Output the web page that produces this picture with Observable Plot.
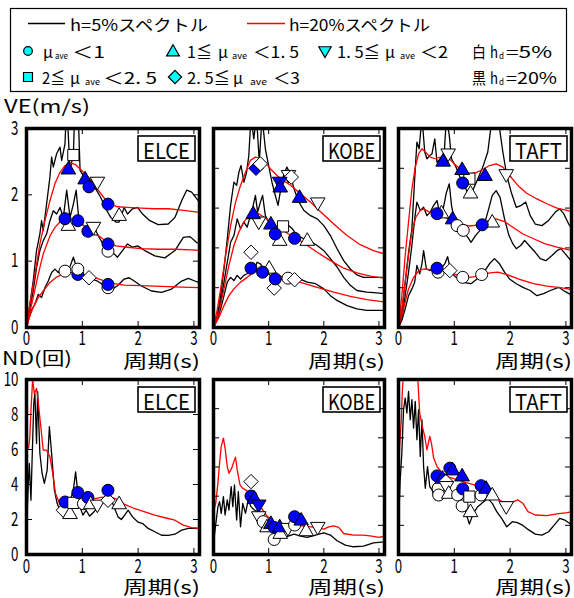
<!DOCTYPE html>
<html><head><meta charset="utf-8">
<script src="https://cdn.jsdelivr.net/npm/d3@7"></script>
<script src="https://cdn.jsdelivr.net/npm/@observablehq/plot@0.6"></script>
<style>
body{margin:0;background:#fff;}
#root{position:relative;width:574px;height:598px;overflow:hidden;background:#fff;}
#root svg{position:absolute;}
</style></head><body><div id="root"></div>
<script>
// ---------------- DATA ----------------
const xTickValues = [0, 1, 2, 3];
const panelNames = ["ELCE", "KOBE", "TAFT"];
const veYDomains = [[0, 3], [0, 5], [0, 5]];
const ndYDomains = [[0, 10], [0, 12], [0, 12]];
const veYTickLabels = [0, 1, 2, 3];
const ndYTickLabels = [0, 2, 4, 6, 8, 10];
const veInnerTicks = [[1, 2], [1, 2, 3, 4], [1, 2, 3, 4]];
const ndInnerTicks = [[2, 4, 6, 8], [2, 4, 6, 8, 10], [2, 4, 6, 8, 10]];

// ELCE VE  [period, value]
const elceVE_h5_top = [[0,0],[0.12,0.7],[0.18,1.16],[0.24,1.41],[0.27,1.61],[0.3,1.46],[0.36,1.86],[0.42,2.27],[0.45,2.57],[0.48,2.42],[0.54,2.62],[0.6,2.72],[0.63,2.52],[0.69,2.77],[0.72,3.4],[0.78,2.37],[0.84,2.62],[0.87,3.4],[0.92,3.4],[0.96,2.37],[1.02,2.29],[1.08,2.24],[1.15,2.19],[1.24,2.09],[1.33,1.96],[1.42,1.79],[1.51,1.66],[1.6,1.59],[1.66,1.59],[1.75,1.81],[1.81,1.71],[1.9,1.79],[1.99,1.81],[2.08,1.71],[2.21,1.61],[2.36,1.55],[2.54,1.56],[2.66,1.66],[2.78,1.91],[2.87,2.07],[2.96,2.04],[3.08,1.91],[3.15,1.89]];
const elceVE_h5_mid = [[0,0],[0.12,0.55],[0.18,0.9],[0.24,1.16],[0.3,1.31],[0.36,1.41],[0.42,1.61],[0.48,1.76],[0.54,1.71],[0.6,1.81],[0.66,1.66],[0.72,2.07],[0.78,1.66],[0.84,1.86],[0.89,2.07],[0.94,1.61],[1.02,1.54],[1.12,1.46],[1.21,1.51],[1.3,1.36],[1.39,1.23],[1.48,1.16],[1.57,1.11],[1.63,1.06],[1.72,1.16],[1.81,1.26],[1.9,1.21],[1.99,1.23],[2.12,1.16],[2.3,1.08],[2.48,1.05],[2.66,1.16],[2.81,1.36],[2.93,1.37],[3.05,1.28],[3.15,1.26]];
const elceVE_h5_bot = [[0,0],[0.08,0.25],[0.15,0.35],[0.21,0.5],[0.27,0.45],[0.33,0.6],[0.39,0.7],[0.45,0.83],[0.51,0.88],[0.57,0.83],[0.66,0.9],[0.75,0.85],[0.84,1.06],[0.9,0.9],[0.99,0.8],[1.08,0.78],[1.18,0.73],[1.27,0.7],[1.36,0.65],[1.45,0.6],[1.54,0.58],[1.63,0.63],[1.75,0.73],[1.84,0.75],[1.93,0.7],[2.05,0.63],[2.24,0.55],[2.42,0.53],[2.6,0.58],[2.78,0.7],[2.9,0.74],[3.05,0.69],[3.15,0.68]];
const elceVE_h20_top = [[0,0],[0.05,0.3],[0.12,0.65],[0.18,0.95],[0.24,1.26],[0.33,1.61],[0.42,1.91],[0.51,2.17],[0.6,2.34],[0.69,2.44],[0.78,2.48],[0.87,2.46],[0.96,2.39],[1.05,2.32],[1.15,2.22],[1.24,2.12],[1.33,2.02],[1.42,1.92],[1.51,1.86],[1.63,1.82],[1.81,1.81],[2.05,1.8],[2.3,1.79],[2.54,1.79],[2.78,1.77],[2.96,1.75],[3.15,1.73]];
const elceVE_h20_mid = [[0,0],[0.05,0.2],[0.12,0.45],[0.21,0.8],[0.3,1.11],[0.42,1.38],[0.51,1.51],[0.6,1.59],[0.72,1.63],[0.84,1.62],[0.96,1.57],[1.08,1.51],[1.21,1.43],[1.33,1.36],[1.45,1.28],[1.6,1.23],[1.81,1.21],[2.05,1.19],[2.36,1.18],[2.66,1.18],[2.96,1.17],[3.15,1.16]];
const elceVE_h20_bot = [[0,0],[0.05,0.15],[0.12,0.3],[0.21,0.45],[0.3,0.55],[0.42,0.68],[0.54,0.76],[0.66,0.81],[0.78,0.83],[0.9,0.82],[1.02,0.8],[1.15,0.77],[1.33,0.72],[1.51,0.67],[1.75,0.64],[2.05,0.63],[2.42,0.62],[2.78,0.61],[3.15,0.6]];
// markers: [period, value, shape, fill]  shape: c circle, u up-tri, d down-tri, q square, k diamond; fill: w white(hd=5%), b dark(hd=20%)
const elceVE_pts = [[0.84,2.6,"q","w"],[0.75,2.39,"u","b"],[1.05,2.24,"u","b"],[1.12,2.12,"c","b"],[1.27,2.19,"d","w"],[1.46,1.86,"c","b"],[1.66,1.69,"u","w"],[0.75,1.54,"u","w"],[0.69,1.64,"c","b"],[0.92,1.61,"c","b"],[1.15,1.47,"u","w"],[1.1,1.45,"c","b"],[1.2,1.51,"d","w"],[1.46,1.15,"c","w"],[1.46,1.26,"c","b"],[0.69,0.85,"c","w"],[0.92,0.8,"c","b"],[0.92,0.88,"c","w"],[1.12,0.75,"k","w"],[1.46,0.6,"c","w"],[1.46,0.65,"c","b"]];

// KOBE VE
const kobeVE_h5_top = [[0,0],[0.07,0.3],[0.13,0.8],[0.19,1.47],[0.25,2.23],[0.31,3.07],[0.37,3.65],[0.42,3.57],[0.46,3.9],[0.5,4.07],[0.55,3.65],[0.6,3.9],[0.64,4.32],[0.68,5.3],[0.73,4.74],[0.78,5.3],[0.83,4.15],[0.88,5.3],[0.94,4.49],[1.0,4.07],[1.06,3.65],[1.12,3.32],[1.17,3.07],[1.21,3.4],[1.27,3.82],[1.33,4.03],[1.39,3.86],[1.46,3.48],[1.55,3.15],[1.64,2.94],[1.76,2.81],[1.88,2.73],[2.0,2.56],[2.12,2.31],[2.24,1.98],[2.36,1.68],[2.48,1.47],[2.6,1.32],[2.72,1.26],[2.9,1.26],[3.1,1.26]];
const kobeVE_h5_mid = [[0,0],[0.07,0.26],[0.13,0.64],[0.19,1.14],[0.25,1.64],[0.31,2.14],[0.37,2.31],[0.43,2.73],[0.49,2.48],[0.55,2.65],[0.61,2.52],[0.67,2.81],[0.72,3.07],[0.76,3.32],[0.8,2.9],[0.85,3.15],[0.89,3.32],[0.94,2.81],[1.0,2.65],[1.09,2.44],[1.17,2.31],[1.24,2.52],[1.33,2.6],[1.43,2.48],[1.52,2.31],[1.64,2.23],[1.76,2.16],[1.88,2.06],[2.0,1.93],[2.12,1.73],[2.24,1.52],[2.36,1.26],[2.48,1.06],[2.6,0.93],[2.78,0.89],[2.96,0.87],[3.1,0.85]];
const kobeVE_h5_bot = [[0,0],[0.07,0.22],[0.13,0.47],[0.19,0.8],[0.25,1.14],[0.31,1.26],[0.37,1.18],[0.43,1.31],[0.49,1.22],[0.55,1.31],[0.61,1.35],[0.67,1.47],[0.73,1.43],[0.79,1.64],[0.85,1.6],[0.91,1.47],[1.0,1.35],[1.09,1.22],[1.18,1.18],[1.27,1.26],[1.36,1.31],[1.46,1.24],[1.58,1.21],[1.7,1.14],[1.85,1.1],[2.0,0.97],[2.12,0.8],[2.24,0.68],[2.42,0.55],[2.6,0.47],[2.78,0.43],[2.96,0.43],[3.1,0.43]];
const kobeVE_h20_top = [[0,0],[0.07,0.47],[0.13,0.97],[0.22,1.81],[0.31,2.56],[0.4,3.15],[0.49,3.57],[0.58,3.9],[0.67,4.2],[0.76,4.28],[0.85,4.25],[0.94,4.15],[1.03,3.99],[1.15,3.82],[1.27,3.69],[1.39,3.58],[1.58,3.36],[1.76,3.15],[1.94,2.91],[2.18,2.6],[2.42,2.31],[2.66,2.08],[2.9,1.93],[3.1,1.85]];
const kobeVE_h20_mid = [[0,0],[0.1,0.39],[0.19,0.97],[0.28,1.56],[0.37,2.06],[0.46,2.4],[0.55,2.65],[0.64,2.81],[0.73,2.88],[0.82,2.86],[0.94,2.75],[1.06,2.6],[1.21,2.48],[1.36,2.35],[1.52,2.23],[1.7,2.06],[1.88,1.89],[2.12,1.68],[2.36,1.49],[2.6,1.37],[2.84,1.29],[3.1,1.24]];
const kobeVE_h20_bot = [[0,0],[0.1,0.26],[0.19,0.55],[0.28,0.8],[0.37,0.97],[0.49,1.14],[0.61,1.26],[0.73,1.39],[0.85,1.46],[0.97,1.43],[1.12,1.35],[1.27,1.26],[1.46,1.18],[1.64,1.11],[1.88,1.01],[2.18,0.89],[2.48,0.78],[2.78,0.7],[3.1,0.64]];
const kobeVE_pts = [[0.77,4.0,"k","b"],[0.85,4.11,"k","w"],[1.36,3.82,"d","w"],[1.41,3.78,"k","w"],[1.2,3.65,"d","b"],[1.21,3.53,"u","b"],[1.56,3.27,"u","b"],[1.89,3.13,"d","w"],[0.82,2.65,"d","w"],[0.72,2.86,"u","b"],[1.04,2.6,"u","b"],[1.26,2.54,"q","w"],[1.2,2.19,"u","w"],[1.12,2.35,"c","b"],[1.47,2.24,"c","b"],[1.7,2.19,"u","w"],[0.68,1.89,"k","w"],[1.01,1.49,"u","w"],[0.68,1.49,"c","b"],[0.89,1.39,"c","b"],[1.1,0.99,"k","w"],[1.12,1.22,"c","b"],[1.35,1.24,"c","w"],[1.47,1.2,"k","w"]];

// TAFT VE
const taftVE_h5_top = [[0,0],[0.06,0.39],[0.12,1.14],[0.18,1.89],[0.24,2.48],[0.29,3.74],[0.33,4.66],[0.37,4.49],[0.42,5.3],[0.47,4.41],[0.51,4.24],[0.56,4.32],[0.6,4.36],[0.65,4.74],[0.69,4.15],[0.75,4.24],[0.82,4.41],[0.86,5.3],[0.91,4.82],[0.95,4.24],[1.03,4.03],[1.1,3.78],[1.18,3.57],[1.26,3.32],[1.33,3.44],[1.42,3.73],[1.51,4.03],[1.6,4.41],[1.68,5.3],[1.78,5.3],[1.87,4.41],[1.94,3.82],[2.02,3.4],[2.11,3.02],[2.2,3.07],[2.28,3.15],[2.36,2.81],[2.45,2.6],[2.57,2.56],[2.69,2.69],[2.81,2.9],[2.89,2.98],[2.96,2.86],[3.05,2.6],[3.12,2.44]];
const taftVE_h5_mid = [[0,0],[0.06,0.22],[0.12,0.8],[0.18,1.39],[0.24,2.06],[0.29,2.73],[0.33,3.15],[0.39,2.94],[0.45,3.02],[0.51,2.81],[0.57,2.9],[0.63,3.07],[0.69,3.19],[0.74,2.86],[0.8,2.98],[0.86,3.4],[0.91,3.61],[0.95,3.07],[1.0,2.69],[1.07,2.52],[1.16,2.4],[1.24,2.27],[1.3,2.14],[1.38,2.31],[1.46,2.44],[1.54,2.6],[1.6,2.9],[1.68,3.32],[1.75,3.44],[1.82,3.27],[1.9,2.73],[1.98,2.31],[2.05,2.1],[2.11,1.98],[2.19,2.06],[2.26,2.19],[2.34,2.06],[2.45,1.89],[2.54,1.73],[2.64,1.68],[2.75,1.81],[2.84,1.93],[2.91,1.98],[2.99,1.85],[3.07,1.71],[3.12,1.64]];
const taftVE_h5_bot = [[0,0],[0.06,0.18],[0.12,0.47],[0.18,0.8],[0.24,0.97],[0.29,1.14],[0.33,1.56],[0.38,1.35],[0.42,1.6],[0.45,1.93],[0.5,1.47],[0.57,1.43],[0.66,1.52],[0.75,1.47],[0.83,1.6],[0.88,1.78],[0.94,1.39],[1.03,1.26],[1.12,1.22],[1.21,1.12],[1.3,1.1],[1.39,1.2],[1.51,1.35],[1.63,1.6],[1.72,1.73],[1.81,1.6],[1.9,1.39],[1.99,1.22],[2.11,1.1],[2.23,1.01],[2.36,0.93],[2.48,0.8],[2.6,0.85],[2.72,0.93],[2.87,1.01],[2.99,0.9],[3.12,0.8]];
const taftVE_h20_top = [[0,0],[0.06,0.8],[0.12,1.81],[0.18,2.65],[0.24,3.48],[0.3,4.03],[0.36,4.36],[0.42,4.49],[0.48,4.41],[0.57,4.28],[0.66,4.24],[0.75,4.28],[0.85,4.3],[0.94,4.2],[1.03,4.07],[1.15,3.94],[1.27,3.86],[1.39,3.89],[1.51,3.97],[1.63,4.07],[1.75,4.11],[1.87,4.03],[1.99,3.82],[2.14,3.57],[2.29,3.38],[2.48,3.23],[2.66,3.11],[2.84,3.0],[3.02,2.94],[3.12,2.9]];
const taftVE_h20_mid = [[0,0],[0.06,0.47],[0.12,1.14],[0.18,1.81],[0.24,2.4],[0.31,2.77],[0.39,2.94],[0.45,2.98],[0.54,2.91],[0.66,2.86],[0.79,2.8],[0.94,2.69],[1.09,2.6],[1.27,2.55],[1.45,2.58],[1.6,2.68],[1.75,2.73],[1.9,2.66],[2.05,2.52],[2.23,2.35],[2.42,2.23],[2.63,2.1],[2.84,2.02],[3.12,1.93]];
const taftVE_h20_bot = [[0,0],[0.06,0.3],[0.12,0.64],[0.18,0.97],[0.27,1.26],[0.36,1.42],[0.45,1.47],[0.54,1.46],[0.72,1.42],[0.91,1.37],[1.09,1.31],[1.27,1.26],[1.45,1.29],[1.63,1.37],[1.78,1.39],[1.96,1.32],[2.17,1.21],[2.42,1.1],[2.66,1.04],[2.9,1.0],[3.12,0.95]];
const taftVE_pts = [[0.89,4.36,"d","w"],[0.8,4.18,"u","b"],[1.27,3.74,"q","w"],[1.14,3.97,"u","b"],[1.29,3.38,"u","w"],[1.15,3.63,"c","b"],[1.55,3.82,"u","b"],[1.93,3.84,"d","w"],[0.77,2.88,"u","w"],[0.69,2.86,"c","b"],[0.97,2.73,"u","b"],[1.05,2.56,"c","w"],[1.16,2.44,"c","w"],[1.68,2.65,"u","w"],[1.5,2.58,"c","b"],[0.71,1.39,"c","w"],[0.69,1.49,"c","b"],[0.92,1.43,"k","w"],[1.15,1.26,"c","w"],[1.49,1.33,"c","w"]];

// ND rows
const elceND_h5 = [[0,0.82],[0.01,2.15],[0.03,3.87],[0.05,5.2],[0.08,3.1],[0.1,5.39],[0.13,8.63],[0.15,9.2],[0.18,6.34],[0.2,9.3],[0.24,5.77],[0.28,4.63],[0.32,4.06],[0.37,4.82],[0.41,7.3],[0.45,5.77],[0.5,3.68],[0.55,2.91],[0.61,2.44],[0.67,2.72],[0.73,2.95],[0.79,3.14],[0.84,3.68],[0.88,4.72],[0.92,3.49],[0.96,2.72],[1.01,2.25],[1.07,2.53],[1.13,2.19],[1.21,2.44],[1.28,2.72],[1.36,2.91],[1.44,3.39],[1.51,3.2],[1.58,2.63],[1.64,2.15],[1.7,2.0],[1.76,2.25],[1.82,2.53],[1.9,2.15],[1.99,1.87],[2.08,1.77],[2.18,1.49],[2.3,1.3],[2.42,1.1],[2.54,1.09],[2.66,1.16],[2.78,1.39],[2.9,1.49],[3.02,1.49],[3.13,1.47]];
const elceND_h20 = [[0,2.15],[0.01,5.96],[0.04,6.15],[0.06,6.72],[0.08,8.25],[0.11,10.0],[0.14,9.2],[0.18,9.49],[0.21,8.72],[0.25,7.49],[0.3,5.96],[0.36,5.96],[0.42,5.58],[0.47,4.63],[0.52,3.49],[0.58,3.01],[0.66,2.95],[0.78,2.95],[0.96,3.1],[1.15,3.14],[1.33,3.26],[1.51,3.3],[1.63,3.14],[1.75,2.88],[1.93,2.63],[2.12,2.44],[2.3,2.25],[2.48,2.1],[2.66,1.96],[2.81,1.68],[2.96,1.54],[3.13,1.49]];
const elceND_pts = [[0.66,2.53,"k","w"],[0.69,3.0,"c","b"],[0.78,2.34,"u","w"],[0.84,2.95,"q","w"],[0.92,3.54,"c","b"],[1.02,2.9,"c","w"],[1.1,3.26,"c","b"],[1.15,2.9,"u","w"],[1.27,2.82,"d","w"],[1.46,3.1,"k","w"],[1.46,3.67,"c","b"],[1.66,2.9,"u","w"]];

const kobeND_h5 = [[0,0.76],[0.02,1.44],[0.05,2.36],[0.08,3.28],[0.11,3.62],[0.14,2.82],[0.18,3.97],[0.21,2.71],[0.25,3.74],[0.28,3.05],[0.32,4.66],[0.35,3.28],[0.38,4.77],[0.42,2.36],[0.45,4.31],[0.49,1.9],[0.53,3.51],[0.58,2.82],[0.63,3.74],[0.68,3.28],[0.74,3.05],[0.8,2.94],[0.86,2.36],[0.94,2.09],[1.03,1.72],[1.12,1.49],[1.21,1.33],[1.33,1.22],[1.46,1.4],[1.58,1.26],[1.7,1.17],[1.85,1.33],[2.0,1.49],[2.12,1.33],[2.24,0.94],[2.39,0.64],[2.54,0.53],[2.72,0.57],[2.9,0.8],[3.1,0.87]];
const kobeND_h20 = [[0,2.94],[0.04,3.51],[0.08,4.89],[0.11,6.26],[0.14,7.41],[0.18,7.98],[0.21,7.29],[0.25,6.03],[0.28,5.57],[0.33,5.92],[0.37,6.38],[0.4,6.67],[0.43,5.8],[0.48,4.77],[0.53,4.54],[0.58,4.43],[0.67,4.2],[0.76,3.74],[0.85,3.28],[0.97,2.64],[1.09,2.25],[1.24,2.09],[1.43,2.02],[1.64,1.95],[1.85,1.86],[2.0,1.74],[2.09,1.9],[2.18,1.97],[2.27,1.86],[2.36,1.44],[2.54,1.33],[2.72,1.33],[2.87,1.26],[3.0,1.17],[3.1,1.26]];
const kobeND_pts = [[0.68,5.0,"k","w"],[0.68,4.01,"c","b"],[0.74,3.85,"u","b"],[0.82,3.39,"d","b"],[0.82,2.59,"d","w"],[0.9,2.25,"c","w"],[0.97,1.9,"u","w"],[1.04,2.13,"u","b"],[1.1,1.03,"c","w"],[1.1,1.86,"c","b"],[1.21,1.45,"u","w"],[1.2,1.9,"u","b"],[1.35,1.79,"d","w"],[1.47,2.02,"c","w"],[1.47,2.59,"c","b"],[1.59,2.36,"u","b"],[1.68,1.63,"u","w"],[1.89,1.86,"d","w"]];

const taftND_h5 = [[0,2.02],[0.03,5.11],[0.06,6.95],[0.09,9.93],[0.12,10.73],[0.15,9.7],[0.18,11.19],[0.21,9.24],[0.24,10.62],[0.27,8.67],[0.3,10.5],[0.33,7.87],[0.36,9.93],[0.39,6.72],[0.42,9.24],[0.45,6.03],[0.48,4.54],[0.52,6.03],[0.56,4.66],[0.6,4.43],[0.66,3.74],[0.72,3.92],[0.8,4.2],[0.88,3.97],[0.95,4.15],[1.04,3.85],[1.12,3.51],[1.2,2.94],[1.27,2.09],[1.34,2.82],[1.42,3.28],[1.51,3.56],[1.6,3.85],[1.68,3.51],[1.76,2.94],[1.86,2.41],[1.94,1.9],[2.04,2.25],[2.13,2.18],[2.22,2.02],[2.32,1.72],[2.45,1.4],[2.57,1.33],[2.69,1.56],[2.79,2.02],[2.89,2.48],[2.98,2.36],[3.07,2.13],[3.12,1.9]];
const taftND_h20 = [[0,5.34],[0.02,7.41],[0.05,9.24],[0.07,11.3],[0.1,13],[0.33,13],[0.35,11.77],[0.38,9.7],[0.42,8.9],[0.47,8.1],[0.51,7.18],[0.56,8.1],[0.59,7.64],[0.63,6.61],[0.69,6.03],[0.79,5.57],[0.91,5.3],[1.06,5.11],[1.21,4.93],[1.36,4.77],[1.51,4.54],[1.63,4.31],[1.75,3.85],[1.87,3.62],[2.02,3.56],[2.14,3.74],[2.23,3.51],[2.32,2.94],[2.45,2.71],[2.66,2.66],[2.84,2.78],[3.02,2.87],[3.12,2.94]];
const taftND_pts = [[0.71,4.54,"c","w"],[0.72,4.08,"c","w"],[0.69,5.39,"c","b"],[0.79,5.23,"u","b"],[0.85,5.0,"k","w"],[0.86,4.66,"d","w"],[0.9,4.2,"u","w"],[0.92,5.92,"c","b"],[0.97,5.8,"u","b"],[1.14,5.39,"u","b"],[1.06,4.08,"c","w"],[1.14,3.33,"c","w"],[1.15,4.5,"c","b"],[1.27,3.97,"q","w"],[1.29,2.94,"u","w"],[1.48,4.08,"c","w"],[1.48,4.72,"c","b"],[1.57,4.54,"u","b"],[1.68,4.08,"u","w"],[1.93,3.28,"d","w"]];

// ---------------- RENDER ----------------
const FONT = "'Noto Sans CJK JP', 'Noto Sans', sans-serif";
const BLUE = "#0000ff", RED = "#ff0000";
const COLS = [[26, 199], [213, 384], [398, 571]];
const ROWS = [[128, 327], [379, 554]];
const root = document.getElementById("root");

const SYM = {
  c: {draw(p){ p.moveTo(6, 0); p.arc(0, 0, 6, 0, 2 * Math.PI); p.closePath(); }},
  u: {draw(p){ p.moveTo(0, -7.6); p.lineTo(7.3, 5); p.lineTo(-7.3, 5); p.closePath(); }},
  d: {draw(p){ p.moveTo(0, 7.6); p.lineTo(7.3, -5); p.lineTo(-7.3, -5); p.closePath(); }},
  q: {draw(p){ p.rect(-5.6, -5.6, 11.2, 11.2); }},
  k: {draw(p){ p.moveTo(0, -7.2); p.lineTo(7.2, 0); p.lineTo(0, 7.2); p.lineTo(-7.2, 0); p.closePath(); }}
};
const fmt = d => String(d);

function panel(ci, ri, blackLines, redLines, pts, yDomain, innerTicks, yLabels) {
  const [x0, x1] = COLS[ci], [y0, y1] = ROWS[ri];
  const W = x1 - x0, H = y1 - y0;
  const ml = ci === 0 ? 30 : 6, mr = 6, mt = 6, mb = 30;
  const marks = [
    ...blackLines.map(d => Plot.line(d, {stroke: "black", strokeWidth: 1.3, clip: true})),
    ...redLines.map(d => Plot.line(d, {stroke: RED, strokeWidth: 1.3, clip: true})),
    Plot.dot(pts, {x: d => d[0], y: d => d[1], symbol: d => d[2], fill: d => d[3] === "b" ? BLUE : "#ffffff", stroke: "black", strokeWidth: 1, r: 5}),
    Plot.tickX([1, 2, 3], {x: d => d, insetTop: H - 6, stroke: "black"}),
    Plot.tickX([1, 2, 3], {x: d => d, insetBottom: H - 6, stroke: "black"}),
    Plot.tickY(innerTicks, {y: d => d, insetRight: W - 6, stroke: "black"}),
    Plot.tickY(innerTicks, {y: d => d, insetLeft: W - 6, stroke: "black"}),
    Plot.frame({stroke: "black", strokeWidth: 3.5})
  ];
  const svg = Plot.plot({
    width: W + ml + mr, height: H + mt + mb,
    marginLeft: ml, marginRight: mr, marginTop: mt, marginBottom: mb,
    x: {domain: [0, 3.1], ticks: xTickValues, tickFormat: fmt, tickSize: 0, tickPadding: ri === 0 ? 4 : 5, label: null},
    y: {domain: yDomain, ticks: yLabels, tickFormat: fmt, tickSize: 0, tickPadding: 8, label: null, axis: ci === 0 ? "left" : null},
    symbol: {domain: ["c", "u", "d", "q", "k"], range: [SYM.c, SYM.u, SYM.d, SYM.q, SYM.k]},
    color: {type: "identity"},
    style: {background: "transparent", fontFamily: FONT, fontSize: "19px", color: "black", overflow: "visible"},
    marks
  });
  svg.style.left = (x0 - ml) + "px";
  svg.style.top = (y0 - mt) + "px";
  svg.style.maxWidth = "none";
  // narrow, tall tick digits as in the original (horizontal squeeze only)
  svg.querySelectorAll('g[aria-label$="tick label"] text').forEach(t => {
    const tr = t.getAttribute("transform");
    if (tr) t.setAttribute("transform", tr + " scale(0.7,1)");
  });
  root.appendChild(svg);
}

const veBlack = [[elceVE_h5_top, elceVE_h5_mid, elceVE_h5_bot], [kobeVE_h5_top, kobeVE_h5_mid, kobeVE_h5_bot], [taftVE_h5_top, taftVE_h5_mid, taftVE_h5_bot]];
const veRed = [[elceVE_h20_top, elceVE_h20_mid, elceVE_h20_bot], [kobeVE_h20_top, kobeVE_h20_mid, kobeVE_h20_bot], [taftVE_h20_top, taftVE_h20_mid, taftVE_h20_bot]];
const vePts = [elceVE_pts, kobeVE_pts, taftVE_pts];
const ndBlack = [[elceND_h5], [kobeND_h5], [taftND_h5]];
const ndRed = [[elceND_h20], [kobeND_h20], [taftND_h20]];
const ndPts = [elceND_pts, kobeND_pts, taftND_pts];

for (let i = 0; i < 3; i++) {
  panel(i, 0, veBlack[i], veRed[i], vePts[i], veYDomains[i], veInnerTicks[i], veYTickLabels);
  panel(i, 1, ndBlack[i], ndRed[i], ndPts[i], ndYDomains[i], ndInnerTicks[i], ndYTickLabels);
}

// ---------------- OVERLAY (legend, titles, labels) ----------------
const ov = d3.create("svg").attr("width", 574).attr("height", 598)
  .style("left", "0px").style("top", "0px").style("pointer-events", "none")
  .attr("font-family", FONT);

function T(s, x, y, size, len, anchor = "start") {
  const t = ov.append("text").attr("x", x).attr("y", y).attr("font-size", size)
    .attr("dominant-baseline", "central").attr("text-anchor", anchor).attr("fill", "black").text(s);
  if (len) t.attr("textLength", len).attr("lengthAdjust", "spacingAndGlyphs");
  return t;
}
function symPath(k, x, y, s, fill) {
  const p = d3.path(); SYM[k].draw(p);
  ov.append("path").attr("d", p.toString()).attr("transform", `translate(${x},${y}) scale(${s})`)
    .attr("fill", fill).attr("stroke", "black").attr("stroke-width", 1.2 / s);
}

// legend box
ov.append("rect").attr("x", 10.5).attr("y", 8.5).attr("width", 556).attr("height", 83)
  .attr("fill", "white").attr("stroke", "black").attr("stroke-width", 1.2);
// row 1
ov.append("line").attr("x1", 28).attr("x2", 65).attr("y1", 23.5).attr("y2", 23.5).attr("stroke", "black").attr("stroke-width", 1.3);
T("h=5%スペクトル", 70, 24, 16, 138);
ov.append("line").attr("x1", 247).attr("x2", 285).attr("y1", 23.5).attr("y2", 23.5).attr("stroke", RED).attr("stroke-width", 1.3);
T("h=20%スペクトル", 289, 24, 16, 141);
// row 2
const CY = "#00ffff";
const r2 = 51, r3 = 77;
symPath("c", 28, r2, 0.72, CY);
T("μ", 43, r2, 16, 10); T("ave", 55, r2 + 4, 9, 13); T("＜1", 72, r2, 16, 33);
symPath("u", 173, r2 + 0.5, 0.88, CY);
T("1≦", 187, r2, 16, 25); T("μ", 218, r2, 16, 10); T("ave", 232, r2 + 4, 9, 15); T("＜1. 5", 253, r2, 16, 46);
symPath("d", 325, r2, 0.85, CY);
T("1. 5≦", 337, r2, 16, 43); T("μ", 385, r2, 16, 10); T("ave", 400, r2 + 4, 9, 15); T("＜2", 420, r2, 16, 28);
T("白", 472, r2, 16, 14); T("h", 490, r2, 16, 8); T("d", 499, r2 + 4, 9, 5); T("=5%", 506, r2, 16, 46);
// row 3
symPath("q", 28, r3, 0.8, CY);
T("2≦", 42, r3, 16, 23); T("μ", 70, r3, 16, 10); T("ave", 85, r3 + 4, 9, 15); T("＜2. 5", 103, r3, 16, 54);
symPath("k", 175, r3, 0.92, CY);
T("2. 5≦", 187, r3, 16, 43); T("μ", 233, r3, 16, 10); T("ave", 250, r3 + 4, 9, 17); T("＜3", 273, r3, 16, 27);
T("黒", 472, r3, 16, 14); T("h", 490, r3, 16, 8); T("d", 499, r3 + 4, 9, 5); T("=20%", 506, r3, 16, 51);

// axis titles
T("VE(m/s)", 4, 105, 18, 86);
T("ND(回)", 2, 357, 18, 70);
for (let i = 0; i < 3; i++) {
  T("周期(s)", COLS[i][1] + 1, 360, 18, 77, "end");
  T("周期(s)", COLS[i][1] + 1, 586, 18, 77, "end");
}
// record name boxes
for (let i = 0; i < 3; i++) {
  for (let r = 0; r < 2; r++) {
    const bx = COLS[i][1] - 4 - 57, by = ROWS[r][0] + 8;
    ov.append("rect").attr("x", bx).attr("y", by).attr("width", 57).attr("height", 25)
      .attr("fill", "white").attr("stroke", "black").attr("stroke-width", 1.6);
    T(panelNames[i], bx + 28.5, by + 13, 22, 47, "middle");
  }
}
root.appendChild(ov.node());
</script></body></html>
